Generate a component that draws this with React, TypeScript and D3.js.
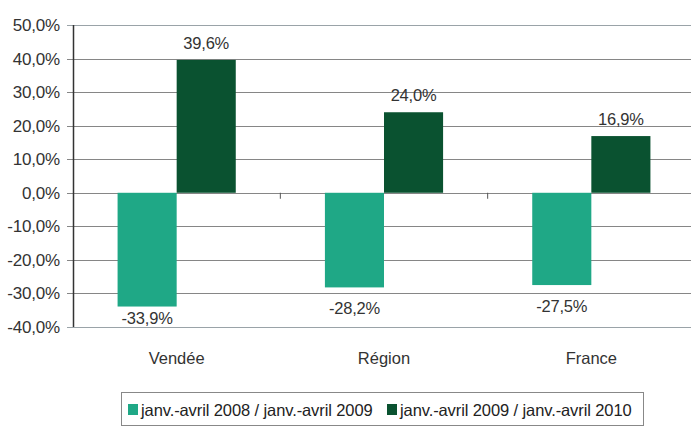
import { useRef, useEffect } from 'react';
import * as d3 from 'd3';

const categories = ['Vendée', 'Région', 'France'];
const seriesNames = ['janv.-avril 2008 / janv.-avril 2009', 'janv.-avril 2009 / janv.-avril 2010'];
const series2009 = [-33.9, -28.2, -27.5];
const series2010 = [39.6, 24.0, 16.9];
const yTicks = [50, 40, 30, 20, 10, 0, -10, -20, -30, -40];
const colors = ['#1fa886', '#0a5230'];

const W = 691;
const H = 428;
const FONT = '"Liberation Sans", Arial, sans-serif';

const fmt = (v: number) => `${v.toFixed(1).replace('.', ',')}%`;

export default function App() {
  const svgRef = useRef<SVGSVGElement>(null);

  useEffect(() => {
    const svg = d3.select(svgRef.current);
    svg.selectAll('*').remove();

    const left = 73;
    const right = 695;
    const y = d3.scaleLinear().domain([-40, 50]).range([327, 25]);
    const x0 = d3.scaleBand().domain(categories).range([left, right]).paddingInner(0.43).paddingOuter(0.215);
    const x1 = d3.scaleBand().domain(['a', 'b']).range([0, x0.bandwidth()]);

    // gridlines
    svg
      .append('g')
      .selectAll('line')
      .data(yTicks)
      .enter()
      .append('line')
      .attr('x1', left - 6)
      .attr('x2', W)
      .attr('y1', d => Math.round(y(d)) + 0.5)
      .attr('y2', d => Math.round(y(d)) + 0.5)
      .attr('stroke', d => (d === 50 || d === -40 ? '#9aa3a8' : '#868686'))
      .attr('stroke-width', 1.2);

    // y labels
    svg
      .append('g')
      .selectAll('text')
      .data(yTicks)
      .enter()
      .append('text')
      .attr('x', 60)
      .attr('y', d => y(d) + 6)
      .attr('text-anchor', 'end')
      .style('font-family', FONT)
      .style('font-size', '17px')
      .style('letter-spacing', '-0.2px')
      .style('fill', '#333')
      .text(d => fmt(d));

    const data = categories.map((c, i) => ({ c, vals: [series2009[i], series2010[i]] }));

    const groups = svg
      .append('g')
      .selectAll('g')
      .data(data)
      .enter()
      .append('g')
      .attr('transform', d => `translate(${x0(d.c)},0)`);

    groups
      .selectAll('rect')
      .data(d => d.vals.map((v, j) => ({ v, k: j === 0 ? 'a' : 'b', j })))
      .enter()
      .append('rect')
      .attr('x', d => x1(d.k)!)
      .attr('width', x1.bandwidth())
      .attr('y', d => y(Math.max(0, d.v)))
      .attr('height', d => Math.abs(y(d.v) - y(0)))
      .attr('fill', d => colors[d.j]);

    groups
      .selectAll('text')
      .data(d => d.vals.map((v, j) => ({ v, k: j === 0 ? 'a' : 'b' })))
      .enter()
      .append('text')
      .attr('x', d => x1(d.k)! + x1.bandwidth() / 2)
      .attr('y', d => (d.v >= 0 ? y(d.v) - 11 : Math.min(y(d.v) + 27, y(-40) - 3)))
      .attr('text-anchor', 'middle')
      .style('font-family', FONT)
      .style('font-size', '16.5px')
      .style('letter-spacing', '-0.2px')
      .style('fill', '#333')
      .text(d => fmt(d.v));

    // y axis
    svg
      .append('line')
      .attr('x1', left + 0.5)
      .attr('x2', left + 0.5)
      .attr('y1', y(50))
      .attr('y2', y(-40))
      .attr('stroke', '#333')
      .attr('stroke-width', 1.5);

    // category separator ticks
    const step = x0.step();
    svg
      .append('g')
      .selectAll('line')
      .data(categories.slice(1))
      .enter()
      .append('line')
      .attr('x1', d => x0(d)! - (step - x0.bandwidth()) / 2)
      .attr('x2', d => x0(d)! - (step - x0.bandwidth()) / 2)
      .attr('y1', y(0))
      .attr('y2', y(0) + 6)
      .attr('stroke', '#555');

    // category labels
    svg
      .append('g')
      .selectAll('text')
      .data(categories)
      .enter()
      .append('text')
      .attr('x', d => x0(d)! + x0.bandwidth() / 2)
      .attr('y', 364)
      .attr('text-anchor', 'middle')
      .style('font-family', FONT)
      .style('font-size', '16.5px')
      .style('fill', '#333')
      .text(d => d);

    // legend
    const legend = svg.append('g');
    legend
      .append('rect')
      .attr('x', 121.5)
      .attr('y', 392.5)
      .attr('width', 522)
      .attr('height', 33)
      .attr('fill', 'white')
      .attr('stroke', '#888');

    const items = legend
      .selectAll('.item')
      .data(seriesNames)
      .enter()
      .append('g')
      .attr('class', 'item')
      .attr('transform', (d, i) => `translate(${i === 0 ? 128 : 387},0)`);

    items
      .append('rect')
      .attr('x', 0)
      .attr('y', 404)
      .attr('width', 10)
      .attr('height', 11)
      .attr('fill', (d, i) => colors[i]);

    items
      .append('text')
      .attr('x', 13)
      .attr('y', 416)
      .style('font-family', FONT)
      .style('font-size', '16.5px')
      .style('letter-spacing', '-0.1px')
      .style('fill', '#222')
      .text(d => d);
  }, []);

  return (
    <svg
      ref={svgRef}
      width={W}
      height={H}
      style={{ position: 'absolute', left: 0, top: 0, background: 'white' }}
    />
  );
}
